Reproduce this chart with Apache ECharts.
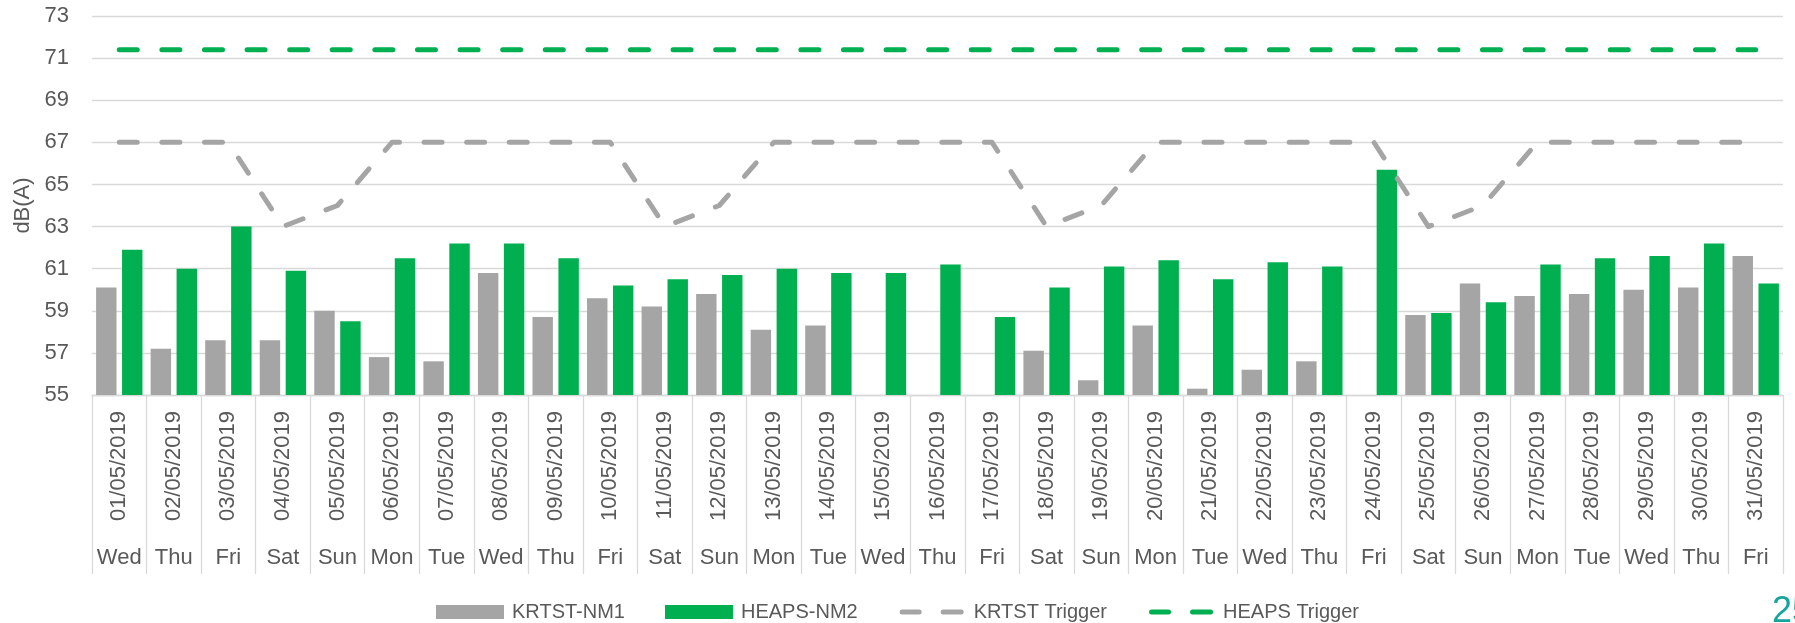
<!DOCTYPE html>
<html>
<head>
<meta charset="utf-8">
<title>KRTST / HEAPS daily levels</title>
<script src="https://cdn.jsdelivr.net/npm/echarts@6/dist/echarts.min.js"></script>
<style>
  html, body { margin: 0; padding: 0; background: #fff; }
  #main { width: 1795px; height: 623px; }
</style>
</head>
<body>
<div id="main"></div>
<script>
// data
var dates = ['01/05/2019', '02/05/2019', '03/05/2019', '04/05/2019', '05/05/2019', '06/05/2019', '07/05/2019',
    '08/05/2019', '09/05/2019', '10/05/2019', '11/05/2019', '12/05/2019', '13/05/2019', '14/05/2019',
    '15/05/2019', '16/05/2019', '17/05/2019', '18/05/2019', '19/05/2019', '20/05/2019', '21/05/2019',
    '22/05/2019', '23/05/2019', '24/05/2019', '25/05/2019', '26/05/2019', '27/05/2019', '28/05/2019',
    '29/05/2019', '30/05/2019', '31/05/2019'];
var days = ['Wed', 'Thu', 'Fri', 'Sat', 'Sun', 'Mon', 'Tue', 'Wed', 'Thu', 'Fri', 'Sat', 'Sun', 'Mon', 'Tue',
    'Wed', 'Thu', 'Fri', 'Sat', 'Sun', 'Mon', 'Tue', 'Wed', 'Thu', 'Fri', 'Sat', 'Sun', 'Mon', 'Tue',
    'Wed', 'Thu', 'Fri'];

var krtstNM1 = [60.1, 57.2, 57.6, 57.6, 59.0, 56.8, 56.6, 60.8, 58.7, 59.6, 59.2, 59.8, 58.1, 58.3,
    54.9, 54.9, 54.9, 57.1, 55.7, 58.3, 55.3, 56.2, 56.6, 54.9, 58.8, 60.3, 59.7, 59.8, 60.0, 60.1, 61.6];
var heapsNM2 = [61.9, 61.0, 63.0, 60.9, 58.5, 61.5, 62.2, 62.2, 61.5, 60.2, 60.5, 60.7, 61.0, 60.8,
    60.8, 61.2, 58.7, 60.1, 61.1, 61.4, 60.5, 61.3, 61.1, 65.7, 58.9, 59.4, 61.2, 61.5, 61.6, 62.2, 60.3];
var krtstTrigger = [67, 67, 67, 63, 64, 67, 67, 67, 67, 67, 63, 64, 67, 67,
    67, 67, 67, 63, 64, 67, 67, 67, 67, 67, 63, 64, 67, 67, 67, 67, 67];
var heapsTrigger = [71.4, 71.4, 71.4, 71.4, 71.4, 71.4, 71.4, 71.4, 71.4, 71.4, 71.4, 71.4, 71.4, 71.4,
    71.4, 71.4, 71.4, 71.4, 71.4, 71.4, 71.4, 71.4, 71.4, 71.4, 71.4, 71.4, 71.4, 71.4, 71.4, 71.4, 71.4];

var GREY = '#A5A5A5';
var GREEN = '#00B050';
var TEXT = '#595959';
var RULE = '#D9D9D9';
var FONT = '"Liberation Sans", Arial, sans-serif';
var DASH = [18, 24.6];

// legend icon: two round-ended dashes, with zero-size points fixing the 68x14 box
var dashIcon = 'path://M0,0L0,0Z M68,14L68,14Z ' +
    'M4.5,4.5H21.5A2.5,2.5 0 0 1 21.5,9.5H4.5A2.5,2.5 0 0 1 4.5,4.5Z ' +
    'M45.5,4.5H63.5A2.5,2.5 0 0 1 63.5,9.5H45.5A2.5,2.5 0 0 1 45.5,4.5Z';

var myChart = echarts.init(document.getElementById('main'));

var option = {
    backgroundColor: '#fff',
    animation: false,
    textStyle: { fontFamily: FONT },
    grid: {
        left: 92,
        right: 12,
        top: 16,
        bottom: 228,
        containLabel: false
    },
    legend: {
        top: 597,
        left: 'center',
        itemWidth: 68,
        itemHeight: 14,
        itemGap: 40,
        textStyle: { color: TEXT, fontSize: 20, fontFamily: FONT, padding: [0, 0, 0, 3] },
        data: [
            { name: 'KRTST-NM1', icon: 'rect' },
            { name: 'HEAPS-NM2', icon: 'rect' },
            { name: 'KRTST Trigger', icon: dashIcon, itemStyle: { color: GREY } },
            { name: 'HEAPS Trigger', icon: dashIcon, itemStyle: { color: GREEN } }
        ]
    },
    xAxis: [{
        type: 'category',
        data: dates,
        position: 'bottom',
        axisLine: { show: true, lineStyle: { color: RULE, width: 1.3 } },
        axisTick: { show: true, interval: 0, length: 179, lineStyle: { color: RULE, width: 1.3 } },
        axisLabel: {
            interval: 0,
            rotate: 90,
            margin: 16,
            color: TEXT,
            fontSize: 22,
            fontFamily: FONT
        },
        splitLine: { show: false }
    }, {
        type: 'category',
        data: days,
        position: 'bottom',
        axisLine: { show: false },
        axisTick: { show: false },
        axisLabel: {
            interval: 0,
            margin: 152,
            color: TEXT,
            fontSize: 22,
            fontFamily: FONT
        },
        splitLine: { show: false }
    }],
    yAxis: {
        type: 'value',
        min: 55,
        max: 73,
        interval: 2,
        name: 'dB(A)',
        nameLocation: 'middle',
        nameRotate: 90,
        nameGap: 50,
        nameTextStyle: { color: TEXT, fontSize: 22, fontFamily: FONT },
        axisLine: { show: false },
        axisTick: { show: false },
        axisLabel: { color: TEXT, fontSize: 22, margin: 23, fontFamily: FONT },
        splitLine: { lineStyle: { color: RULE, width: 1.3 } }
    },
    series: [{
        name: 'KRTST-NM1',
        type: 'bar',
        data: krtstNM1,
        barGap: '27%',
        barCategoryGap: '15%',
        itemStyle: { color: GREY }
    }, {
        name: 'HEAPS-NM2',
        type: 'bar',
        data: heapsNM2,
        itemStyle: { color: GREEN }
    }, {
        name: 'KRTST Trigger',
        type: 'line',
        data: krtstTrigger,
        symbol: 'none',
        lineStyle: { color: GREY, width: 5, type: DASH, cap: 'round', join: 'round' },
        itemStyle: { color: GREY }
    }, {
        name: 'HEAPS Trigger',
        type: 'line',
        data: heapsTrigger,
        symbol: 'none',
        lineStyle: { color: GREEN, width: 5, type: DASH, cap: 'round', join: 'round' },
        itemStyle: { color: GREEN }
    }],
    graphic: [{
        type: 'text',
        left: 1772,
        top: 594,
        style: { text: '25', fill: '#16A59A', fontSize: 36, fontFamily: FONT }
    }]
};

myChart.setOption(option);

window.onresize = function() {
    myChart.resize();
};
</script>
</body>
</html>
